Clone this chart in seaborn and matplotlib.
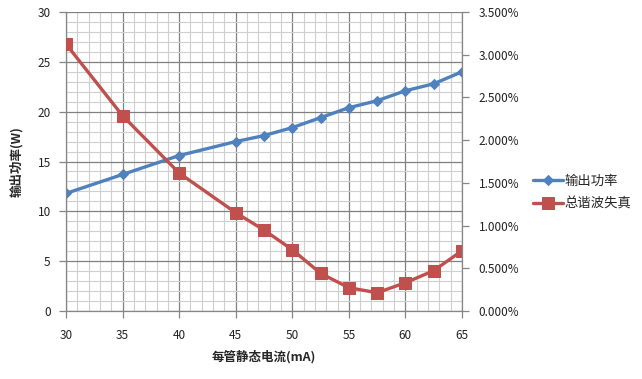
import matplotlib
matplotlib.use("Agg")
import matplotlib.pyplot as plt
import seaborn as sns
import pandas as pd
from matplotlib.ticker import MultipleLocator, FuncFormatter

current_ma = [30, 35, 40, 45, 47.5, 50, 52.5, 55, 57.5, 60, 62.5, 65]
power_w = [11.8, 13.7, 15.6, 17.0, 17.6, 18.4, 19.4, 20.4, 21.1, 22.1, 22.8, 24.0]
thd_pct = [3.125, 2.286, 1.615, 1.151, 0.948, 0.718, 0.441, 0.273, 0.214, 0.331, 0.472, 0.706]
series_names = ["输出功率", "总谐波失真"]
x_label = "每管静态电流(mA)"
y_label = "输出功率(W)"

sns.set_theme(style="white")
plt.rcParams['font.family'] = ['Noto Sans CJK SC', 'DejaVu Sans']

df = pd.DataFrame({"x": current_ma, "p": power_w, "t": thd_pct})

fig = plt.figure(figsize=(6.42, 3.79), dpi=100)
ax = fig.add_axes([0.1028, 0.1794, 0.6168, 0.7889])
ax2 = ax.twinx()

blue = "#4F81BD"
red = "#C0504D"

sns.lineplot(data=df, x="x", y="p", ax=ax, color=blue, lw=2.4, marker="D",
             markersize=5.5, markeredgecolor=blue, label=series_names[0], legend=False)
sns.lineplot(data=df, x="x", y="t", ax=ax2, color=red, lw=2.4, marker="s",
             markersize=8, markeredgecolor=red, label=series_names[1], legend=False)

ax.set_xlim(30, 65)
ax.set_ylim(0, 30)
ax2.set_ylim(0, 3.5)

ax.xaxis.set_major_locator(MultipleLocator(5))
ax.xaxis.set_minor_locator(MultipleLocator(1))
ax.yaxis.set_major_locator(MultipleLocator(5))
ax.yaxis.set_minor_locator(MultipleLocator(1))
ax2.yaxis.set_major_locator(MultipleLocator(0.5))
ax2.yaxis.set_major_formatter(FuncFormatter(lambda v, p: f"{v:.3f}%"))

ax.grid(which="minor", color="#cfcfcf", lw=0.8)
ax.grid(which="major", color="#808080", lw=0.9)
ax.set_axisbelow(True)

for a in (ax, ax2):
    for s in a.spines.values():
        s.set_visible(False)
ax.spines["left"].set_visible(True)
ax.spines["bottom"].set_visible(True)
ax2.spines["right"].set_visible(True)
for s in (ax.spines["left"], ax.spines["bottom"], ax2.spines["right"]):
    s.set_color("#868686")
    s.set_linewidth(0.9)

ax.tick_params(which="major", direction="out", length=5, width=0.9, color="#868686",
               labelsize=8.5, labelcolor="#222222", bottom=True, left=True, pad=6)
ax.tick_params(axis="x", pad=8)
ax.tick_params(which="minor", length=0)
ax2.tick_params(which="major", direction="out", length=5, width=0.9, color="#868686",
                labelsize=8.5, labelcolor="#222222", right=True, pad=7)

ax.set_xlabel(x_label, fontsize=9, fontweight="bold", labelpad=6)
ax.set_ylabel(y_label, fontsize=9, fontweight="bold", labelpad=10)
ax2.set_ylabel("")

h1, l1 = ax.get_legend_handles_labels()
h2, l2 = ax2.get_legend_handles_labels()
fig.legend(h1 + h2, l1 + l2, loc="center left", bbox_to_anchor=(0.812, 0.493),
           frameon=False, fontsize=9.6, handlelength=2.2, handletextpad=0.1,
           labelspacing=0.7)

fig.savefig("out.png", dpi=100)
